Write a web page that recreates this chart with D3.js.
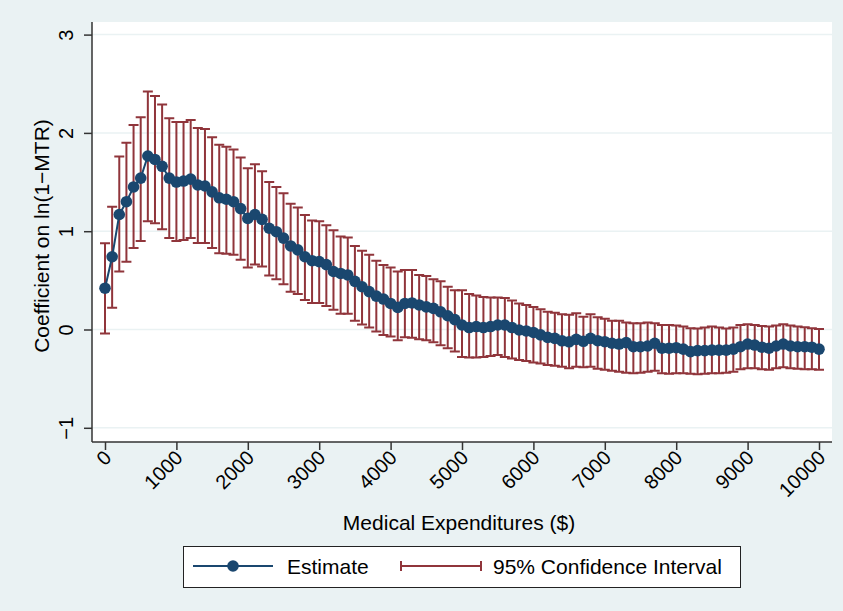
<!DOCTYPE html>
<html>
<head>
<meta charset="utf-8">
<script src="https://cdn.jsdelivr.net/npm/d3@7"></script>
<style>
  html, body { margin: 0; padding: 0; background: #EAF2F3; }
  svg { display: block; }
  text { font-family: "Liberation Sans", Arial, Helvetica, sans-serif; fill: #000; }
</style>
</head>
<body>
<svg id="chart" width="843" height="611"></svg>
<script>
// Medical expenditure thresholds ($)
const expenditure = [
  0, 100, 200, 300, 400, 500, 600, 700, 800, 900,
  1000, 1100, 1200, 1300, 1400, 1500, 1600, 1700, 1800, 1900,
  2000, 2100, 2200, 2300, 2400, 2500, 2600, 2700, 2800, 2900,
  3000, 3100, 3200, 3300, 3400, 3500, 3600, 3700, 3800, 3900,
  4000, 4100, 4200, 4300, 4400, 4500, 4600, 4700, 4800, 4900,
  5000, 5100, 5200, 5300, 5400, 5500, 5600, 5700, 5800, 5900,
  6000, 6100, 6200, 6300, 6400, 6500, 6600, 6700, 6800, 6900,
  7000, 7100, 7200, 7300, 7400, 7500, 7600, 7700, 7800, 7900,
  8000, 8100, 8200, 8300, 8400, 8500, 8600, 8700, 8800, 8900,
  9000, 9100, 9200, 9300, 9400, 9500, 9600, 9700, 9800, 9900,
  10000
];

// Point estimates of the coefficient on ln(1-MTR)
const estimate = [
  0.42, 0.74, 1.17, 1.30, 1.45, 1.54, 1.765, 1.73, 1.66, 1.54,
  1.50, 1.51, 1.53, 1.47, 1.46, 1.40, 1.34, 1.325, 1.30, 1.23,
  1.13, 1.17, 1.12, 1.03, 0.995, 0.93, 0.85, 0.81, 0.74, 0.70,
  0.69, 0.66, 0.59, 0.57, 0.555, 0.49, 0.435, 0.385, 0.34, 0.31,
  0.265, 0.225, 0.265, 0.27, 0.25, 0.23, 0.215, 0.18, 0.14, 0.10,
  0.046, 0.02, 0.03, 0.02, 0.03, 0.046, 0.046, 0.02, -0.005, -0.015,
  -0.03, -0.055, -0.08, -0.09, -0.115, -0.125, -0.10, -0.12, -0.09, -0.114,
  -0.124, -0.14, -0.148, -0.134, -0.175, -0.175, -0.168, -0.14, -0.19, -0.19,
  -0.185, -0.20, -0.225, -0.215, -0.215, -0.21, -0.21, -0.21, -0.20, -0.175,
  -0.148, -0.158, -0.18, -0.19, -0.168, -0.148, -0.168, -0.175, -0.175, -0.18,
  -0.20
];

// Upper bound of the 95% confidence interval
const ciUpper = [
  0.877, 1.25, 1.76, 1.90, 2.08, 2.16, 2.42, 2.375, 2.29, 2.15,
  2.11, 2.11, 2.13, 2.05, 2.04, 1.955, 1.88, 1.86, 1.83, 1.75,
  1.64, 1.68, 1.61, 1.50, 1.45, 1.385, 1.28, 1.24, 1.165, 1.11,
  1.10, 1.06, 1.01, 0.945, 0.935, 0.85, 0.80, 0.76, 0.70, 0.655,
  0.63, 0.59, 0.605, 0.605, 0.555, 0.545, 0.51, 0.49, 0.435, 0.40,
  0.40, 0.36, 0.345, 0.33, 0.325, 0.325, 0.32, 0.295, 0.265, 0.25,
  0.23, 0.205, 0.18, 0.17, 0.155, 0.15, 0.165, 0.13, 0.155, 0.124,
  0.11, 0.09, 0.09, 0.07, 0.063, 0.063, 0.07, 0.063, 0.046, 0.046,
  0.04, 0.03, 0.012, 0.01, 0.02, 0.03, 0.02, 0.01, 0.02, 0.046,
  0.053, 0.046, 0.035, 0.03, 0.04, 0.053, 0.04, 0.03, 0.022, 0.012,
  0.005
];

// Lower bound of the 95% confidence interval
const ciLower = [
  -0.04, 0.22, 0.59, 0.69, 0.83, 0.90, 1.10, 1.08, 1.02, 0.93,
  0.90, 0.91, 0.93, 0.88, 0.88, 0.83, 0.775, 0.77, 0.76, 0.71,
  0.63, 0.66, 0.64, 0.55, 0.51, 0.46, 0.385, 0.36, 0.30, 0.27,
  0.27, 0.24, 0.20, 0.16, 0.16, 0.09, 0.05, 0.02, -0.02, -0.055,
  -0.07, -0.11, -0.08, -0.085, -0.10, -0.11, -0.13, -0.16, -0.19, -0.225,
  -0.28, -0.285, -0.285, -0.28, -0.27, -0.26, -0.28, -0.295, -0.31, -0.32,
  -0.335, -0.345, -0.36, -0.37, -0.38, -0.395, -0.38, -0.385, -0.38, -0.40,
  -0.41, -0.42, -0.43, -0.44, -0.445, -0.44, -0.43, -0.42, -0.445, -0.45,
  -0.445, -0.445, -0.45, -0.455, -0.45, -0.445, -0.445, -0.44, -0.43, -0.405,
  -0.395, -0.395, -0.405, -0.41, -0.395, -0.385, -0.395, -0.40, -0.405, -0.405,
  -0.41
];

const xTicks = [0, 1000, 2000, 3000, 4000, 5000, 6000, 7000, 8000, 9000, 10000];
const yTicks = [-1, 0, 1, 2, 3];

const xTitle = "Medical Expenditures ($)";
const yTitle = "Coefficient on ln(1\u2212MTR)";
const legendLabels = ["Estimate", "95% Confidence Interval"];

// Colours
const BG = "#EAF2F3";
const NAVY = "#1A476F";
const MAROON = "#90353B";
const AXIS = "#333333";

// Plot region
const plot = { left: 92, right: 832, top: 22, bottom: 442 };

const svg = d3.select("#chart");

svg.append("rect").attr("x", 0).attr("y", 0).attr("width", 843).attr("height", 611).attr("fill", BG);
svg.append("rect")
  .attr("x", plot.left).attr("y", plot.top)
  .attr("width", plot.right - plot.left).attr("height", plot.bottom - plot.top)
  .attr("fill", "#ffffff");

const x = d3.scaleLinear().domain([0, 10000]).range([105, 819]);
const y = d3.scaleLinear().domain([-1, 3]).range([427.8, 34.6]);

// Horizontal grid lines
svg.append("g").selectAll("line").data(yTicks).join("line")
  .attr("x1", plot.left).attr("x2", plot.right)
  .attr("y1", d => y(d)).attr("y2", d => y(d))
  .attr("stroke", BG).attr("stroke-width", 1.5);

// Y axis
const yAxis = svg.append("g")
  .attr("transform", `translate(${plot.left},0)`)
  .call(d3.axisLeft(y).tickValues(yTicks).tickSize(8).tickPadding(0)
        .tickFormat(d => d < 0 ? "\u2212" + Math.abs(d) : String(d)));
yAxis.select(".domain").attr("d", `M0,${plot.top}V${plot.bottom}`)
  .attr("stroke", AXIS).attr("stroke-width", 1.5);
yAxis.selectAll(".tick line").attr("stroke", AXIS).attr("stroke-width", 1.5);
yAxis.selectAll(".tick text")
  .attr("x", null).attr("dy", null)
  .attr("transform", "translate(-19,0) rotate(-90)")
  .attr("text-anchor", "middle")
  .style("font-size", "20px")
  .style("font-family", "'Liberation Sans', Arial, sans-serif")
  .attr("fill", "#000");

// X axis
const xAxis = svg.append("g")
  .attr("transform", `translate(0,${plot.bottom})`)
  .call(d3.axisBottom(x).tickValues(xTicks).tickSize(8).tickPadding(0).tickFormat(d3.format("d")));
xAxis.select(".domain").attr("d", `M${plot.left},0H${plot.right}`)
  .attr("stroke", AXIS).attr("stroke-width", 1.5);
xAxis.selectAll(".tick line").attr("stroke", AXIS).attr("stroke-width", 1.5);
xAxis.selectAll(".tick text")
  .attr("y", null).attr("dy", null)
  .attr("transform", "translate(7,17) rotate(-45)")
  .attr("text-anchor", "end")
  .style("font-size", "20px")
  .style("font-family", "'Liberation Sans', Arial, sans-serif")
  .attr("fill", "#000");

// Axis titles
svg.append("text")
  .attr("transform", `translate(49,236) rotate(-90)`)
  .attr("text-anchor", "middle")
  .style("font-size", "21px")
  .text(yTitle);

svg.append("text")
  .attr("x", 459).attr("y", 530)
  .attr("text-anchor", "middle")
  .style("font-size", "21px")
  .text(xTitle);

// Confidence interval bars
const rows = expenditure.map((e, i) => ({ e, est: estimate[i], lo: ciLower[i], hi: ciUpper[i] }));
const capW = 5;
const ci = svg.append("g").attr("stroke", MAROON).attr("stroke-width", 2).attr("fill", "none");
ci.selectAll("path").data(rows).join("path")
  .attr("d", d => {
    const cx = x(d.e), y1 = y(d.hi), y0 = y(d.lo);
    return `M${cx},${y0}V${y1}M${cx - capW},${y1}H${cx + capW}M${cx - capW},${y0}H${cx + capW}`;
  });

// Estimate line and markers
svg.append("path").datum(rows)
  .attr("fill", "none").attr("stroke", NAVY).attr("stroke-width", 2)
  .attr("d", d3.line().x(d => x(d.e)).y(d => y(d.est)));

svg.append("g").selectAll("circle").data(rows).join("circle")
  .attr("cx", d => x(d.e)).attr("cy", d => y(d.est)).attr("r", 5.8)
  .attr("fill", NAVY);

// Legend
const lg = svg.append("g");
lg.append("rect").attr("x", 183.5).attr("y", 546.5).attr("width", 557).attr("height", 41)
  .attr("fill", "#ffffff").attr("stroke", "#222").attr("stroke-width", 1);
lg.append("line").attr("x1", 193).attr("x2", 273).attr("y1", 566).attr("y2", 566)
  .attr("stroke", NAVY).attr("stroke-width", 2);
lg.append("circle").attr("cx", 233).attr("cy", 566).attr("r", 5.8).attr("fill", NAVY);
lg.append("text").attr("x", 287).attr("y", 574).style("font-size", "21px").text(legendLabels[0]);
lg.append("path")
  .attr("d", "M401,566H481M401,561V571M481,561V571")
  .attr("stroke", MAROON).attr("stroke-width", 2).attr("fill", "none");
lg.append("text").attr("x", 493).attr("y", 574).style("font-size", "21px").text(legendLabels[1]);
</script>
</body>
</html>
